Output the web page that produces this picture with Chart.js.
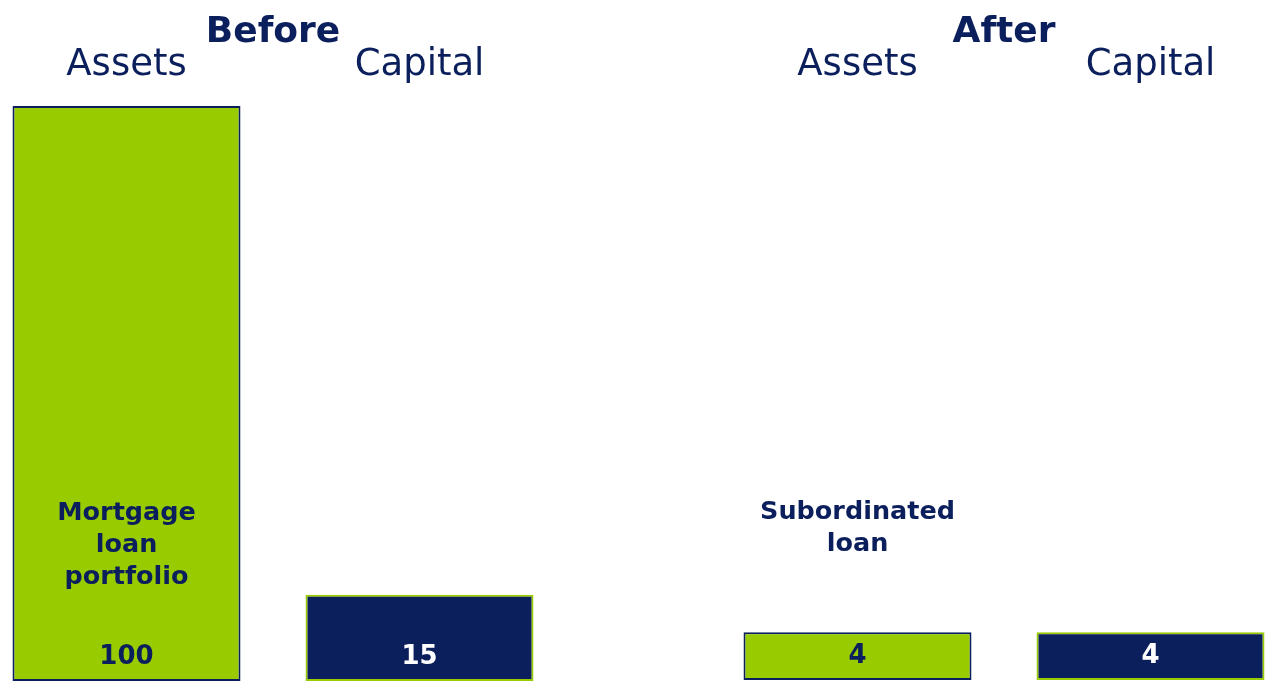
<!DOCTYPE html>
<html>
<head>
<meta charset="utf-8">
<script src="https://cdn.jsdelivr.net/npm/chart.js@4.4.1/dist/chart.umd.min.js"></script>
<style>
  html, body { margin: 0; padding: 0; background: #ffffff; }
  body { width: 1270px; height: 684px; position: relative; overflow: hidden; }
  canvas { position: absolute; top: 0; }
  #before { left: -20px; }
  #after { left: 711px; }
</style>
</head>
<body>
<canvas id="before" width="586" height="684"></canvas>
<canvas id="after" width="586" height="684"></canvas>
<script>
// Balance-sheet sides and their amounts
const categories = ['Assets', 'Capital'];
const beforeValues = [100, 15];
const afterValues = [4, 4];

// Captions written on / above the asset bars
const beforeCaptions = [['Mortgage', 'loan', 'portfolio'], []];
const afterCaptions = [['Subordinated', 'loan'], []];

const GREEN = '#99cc00';
const NAVY = '#0b1f5c';
const FONT = '"DejaVu Sans", Verdana, sans-serif';

// Draws each bar's caption and value label
const barLabels = {
  id: 'barLabels',
  afterDatasetsDraw(chart) {
    const ctx = chart.ctx;
    const ds = chart.data.datasets[0];
    const meta = chart.getDatasetMeta(0);
    ctx.save();
    ctx.textAlign = 'center';
    ctx.textBaseline = 'alphabetic';
    meta.data.forEach((bar, i) => {
      const base = bar.base;
      ctx.fillStyle = NAVY;
      ctx.font = 'bold 25.5px ' + FONT;
      (ds.captions[i] || []).forEach((line, k) => {
        ctx.fillText(line, bar.x, base - 161 + k * 32);
      });
      ctx.font = 'bold 26px ' + FONT;
      ctx.fillStyle = ds.valueColors[i];
      ctx.fillText(String(ds.data[i]), bar.x, base - 17);
    });
    ctx.restore();
  }
};

function makeChart(id, title, values, captions, yMax, bottomPad) {
  return new Chart(document.getElementById(id), {
    type: 'bar',
    data: {
      labels: categories,
      datasets: [{
        data: values,
        captions: captions,
        valueColors: [NAVY, '#ffffff'],
        backgroundColor: [GREEN, NAVY],
        borderColor: [NAVY, GREEN],
        borderWidth: 2,
        borderSkipped: false,
        categoryPercentage: 1,
        barPercentage: 228 / 293
      }]
    },
    options: {
      responsive: false,
      animation: false,
      events: [],
      layout: { padding: { left: 0, right: 0, top: 0, bottom: bottomPad } },
      plugins: {
        legend: { display: false },
        tooltip: { enabled: false },
        title: {
          display: true,
          text: title,
          color: NAVY,
          font: { family: FONT, size: 36, weight: 'bold' },
          padding: { top: 11, bottom: -28.6 }
        }
      },
      scales: {
        x: {
          position: 'top',
          grid: { display: false, drawTicks: false },
          border: { display: false },
          ticks: {
            color: NAVY,
            font: { family: FONT, size: 37 },
            padding: 18,
            maxRotation: 0
          }
        },
        y: {
          display: false,
          min: 0,
          max: yMax
        }
      }
    },
    plugins: [barLabels]
  });
}

makeChart('before', 'Before', beforeValues, beforeCaptions, 100, 3);
makeChart('after', 'After', afterValues, afterCaptions, 48, 4);
</script>
</body>
</html>
